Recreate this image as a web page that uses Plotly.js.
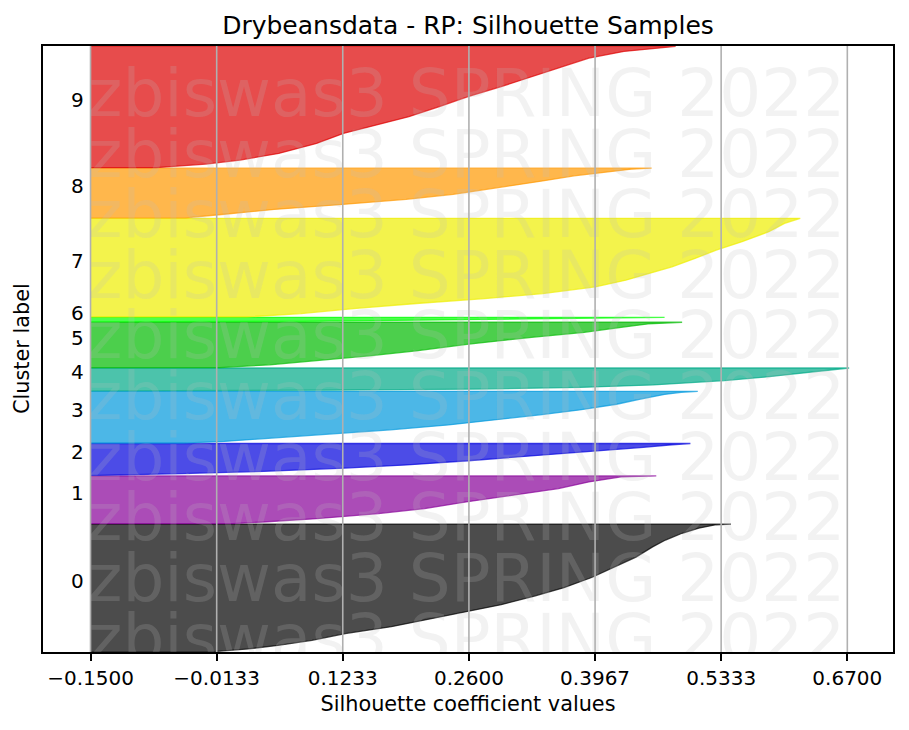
<!DOCTYPE html>
<html>
<head>
<meta charset="utf-8">
<script src="https://cdn.plot.ly/plotly-3.0.1.min.js"></script>
<style>
  body { margin: 0; background: #fff; }
  #chart { width: 909px; height: 730px; }
</style>
</head>
<body>
<div id="chart"></div>
<script>
// cluster labels and how many samples each cluster holds
const clusterLabels = ["0", "1", "2", "3", "4", "5", "6", "7", "8", "9"];
const clusterSizes = [2870, 1075, 720, 1165, 515, 1020, 100, 2220, 1120, 2730];

// sorted silhouette values: [share of the cluster from its bottom, value]
const sil0 = [[0, -0.015], [0.021, 0.021], [0.048, 0.053], [0.088, 0.09], [0.141, 0.126], [0.195, 0.176],
  [0.261, 0.222], [0.315, 0.258], [0.368, 0.295], [0.435, 0.331], [0.501, 0.363], [0.581, 0.393],
  [0.661, 0.418], [0.741, 0.441], [0.821, 0.459], [0.875, 0.473], [0.928, 0.491], [0.968, 0.509],
  [0.995, 0.528], [1, 0.544]];
const sil1 = [[0, 0.004], [0.035, 0.037], [0.105, 0.095], [0.21, 0.162], [0.315, 0.212], [0.455, 0.257],
  [0.594, 0.307], [0.734, 0.357], [0.874, 0.39], [0.944, 0.411], [0.98, 0.425], [1, 0.463]];
const sil2 = [[0, -0.14], [0.06, -0.051], [0.13, 0.038], [0.23, 0.126], [0.33, 0.193], [0.46, 0.259],
  [0.58, 0.316], [0.68, 0.361], [0.78, 0.405], [0.88, 0.449], [0.96, 0.48], [1, 0.5]];
const sil3 = [[0, -0.05], [0.032, -0.005], [0.095, 0.048], [0.17, 0.11], [0.255, 0.175], [0.35, 0.238],
  [0.45, 0.292], [0.545, 0.337], [0.64, 0.38], [0.75, 0.42], [0.85, 0.446], [0.94, 0.472],
  [0.98, 0.49], [1, 0.508]];
const sil4 = [[0, 0.0], [0.03, 0.11], [0.08, 0.27], [0.15, 0.38], [0.26, 0.46], [0.45, 0.537],
  [0.6, 0.58], [0.76, 0.62], [0.9, 0.65], [0.97, 0.665], [1, 0.672]];
const sil5 = [[0, -0.01], [0.059, 0.044], [0.148, 0.095], [0.259, 0.152], [0.37, 0.203], [0.519, 0.26],
  [0.667, 0.328], [0.778, 0.385], [0.889, 0.425], [0.963, 0.454], [1, 0.491]];
const sil6 = [[0, 0.0], [0.1, 0.08], [0.3, 0.18], [0.5, 0.26], [0.7, 0.35], [0.85, 0.41], [1, 0.472]];
const sil7 = [[0, 0.02], [0.034, 0.078], [0.085, 0.135], [0.136, 0.203], [0.186, 0.277], [0.237, 0.34],
  [0.305, 0.397], [0.373, 0.43], [0.441, 0.455], [0.508, 0.48], [0.593, 0.505], [0.678, 0.528],
  [0.763, 0.556], [0.864, 0.585], [0.949, 0.602], [1, 0.619]];
const sil8 = [[0, -0.047], [0.068, -0.008], [0.169, 0.049], [0.27, 0.123], [0.372, 0.192], [0.473, 0.243],
  [0.608, 0.294], [0.743, 0.34], [0.845, 0.374], [0.912, 0.408], [0.98, 0.436], [1, 0.458]];
const sil9 = [[0, -0.079], [0.03, -0.025], [0.063, 0.012], [0.118, 0.054], [0.2, 0.095], [0.283, 0.124],
  [0.339, 0.153], [0.421, 0.195], [0.504, 0.228], [0.587, 0.259], [0.669, 0.295], [0.752, 0.328],
  [0.835, 0.361], [0.904, 0.39], [0.959, 0.428], [0.986, 0.461], [1, 0.484]];
const profiles = [sil0, sil1, sil2, sil3, sil4, sil5, sil6, sil7, sil8, sil9];

const tickVals = [-0.15, -0.0133, 0.1233, 0.26, 0.3967, 0.5333, 0.67];
const tickText = ["\u22120.1500", "\u22120.0133", "0.1233", "0.2600", "0.3967", "0.5333", "0.6700"];

// nipy_spectral(i / 10)
const colors = ["0,0,0", "136,0,153", "0,0,221", "0,153,221", "0,170,136",
                "0,187,0", "0,255,0", "238,238,0", "255,153,0", "221,0,0"];

const baseValue = -0.15;
const gap = 10;
const font = "DejaVu Sans";

const traces = [];
const annotations = [];
let yLower = gap;
profiles.forEach((prof, i) => {
    const size = clusterSizes[i];
    const xs = [baseValue];
    const ys = [yLower];
    prof.forEach(p => {
        xs.push(p[1]);
        ys.push(yLower + p[0] * size);
    });
    xs.push(baseValue);
    ys.push(yLower + size);
    traces.push({
        type: "scatter", mode: "lines", x: xs, y: ys,
        fill: "toself", fillcolor: `rgba(${colors[i]},0.7)`,
        line: {color: `rgba(${colors[i]},0.7)`, width: 1.3},
        hoverinfo: "skip", showlegend: false
    });
    annotations.push({
        x: -0.17, y: yLower + size / 2, xref: "x", yref: "y",
        text: clusterLabels[i], showarrow: false,
        xanchor: "left", yanchor: "bottom", xshift: -3, yshift: -7,
        font: {family: font, size: 20, color: "#000"}
    });
    yLower += size + gap;
});
const yMax = yLower;

// watermark rows
const wmY = [];
const wmX = [];
const wmText = [];
for (let k = 0; k < 10; k++) {
    wmY.push(yMax * (1 - 0.0884 - 0.1 * k));
    wmX.push(baseValue - 0.003);
    wmText.push("zbiswas3 SPRING 2022");
}
traces.push({
    type: "scatter", mode: "text", x: wmX, y: wmY, text: wmText,
    textposition: "middle right", cliponaxis: true,
    textfont: {family: font, size: 66, color: "rgba(190,190,190,0.2)"},
    hoverinfo: "skip", showlegend: false
});

annotations.push({
    x: 0, y: 0.5, xref: "paper", yref: "paper", xanchor: "center", yanchor: "middle",
    xshift: -21, textangle: -90, showarrow: false, text: "Cluster label",
    font: {family: font, size: 20.8, color: "#000"}
});

const shapes = tickVals.map(v => ({
    type: "line", xref: "x", yref: "paper", x0: v, x1: v, y0: 0, y1: 1,
    line: {color: "#b0b0b0", width: 1.6}, layer: "above"
}));

const layout = {
    width: 909,
    height: 730,
    margin: {l: 43, r: 16, t: 46, b: 78},
    paper_bgcolor: "#fff",
    plot_bgcolor: "#fff",
    font: {family: font, color: "#000"},
    title: {
        text: "Drybeansdata - RP: Silhouette Samples",
        font: {family: font, size: 25, color: "#000"},
        x: 0.5, xref: "paper", xanchor: "center",
        y: 1 - 25 / 730, yref: "container", yanchor: "middle"
    },
    xaxis: {
        range: [-0.2015, 0.7195],
        tickmode: "array", tickvals: tickVals, ticktext: tickText,
        ticks: "outside", ticklen: 7, tickwidth: 1.6, tickcolor: "#000",
        tickfont: {family: font, size: 20, color: "#000"},
        showgrid: false, zeroline: false,
        showline: true, mirror: true, linecolor: "#000", linewidth: 1.6,
        title: {text: "Silhouette coefficient values", font: {family: font, size: 20.8, color: "#000"}, standoff: 8}
    },
    yaxis: {
        range: [0, yMax],
        showticklabels: false, ticks: "",
        showgrid: false, zeroline: false,
        showline: true, mirror: true, linecolor: "#000", linewidth: 1.6
    },
    shapes: shapes,
    annotations: annotations
};

Plotly.newPlot("chart", traces, layout, {displayModeBar: false});
</script>
</body>
</html>
